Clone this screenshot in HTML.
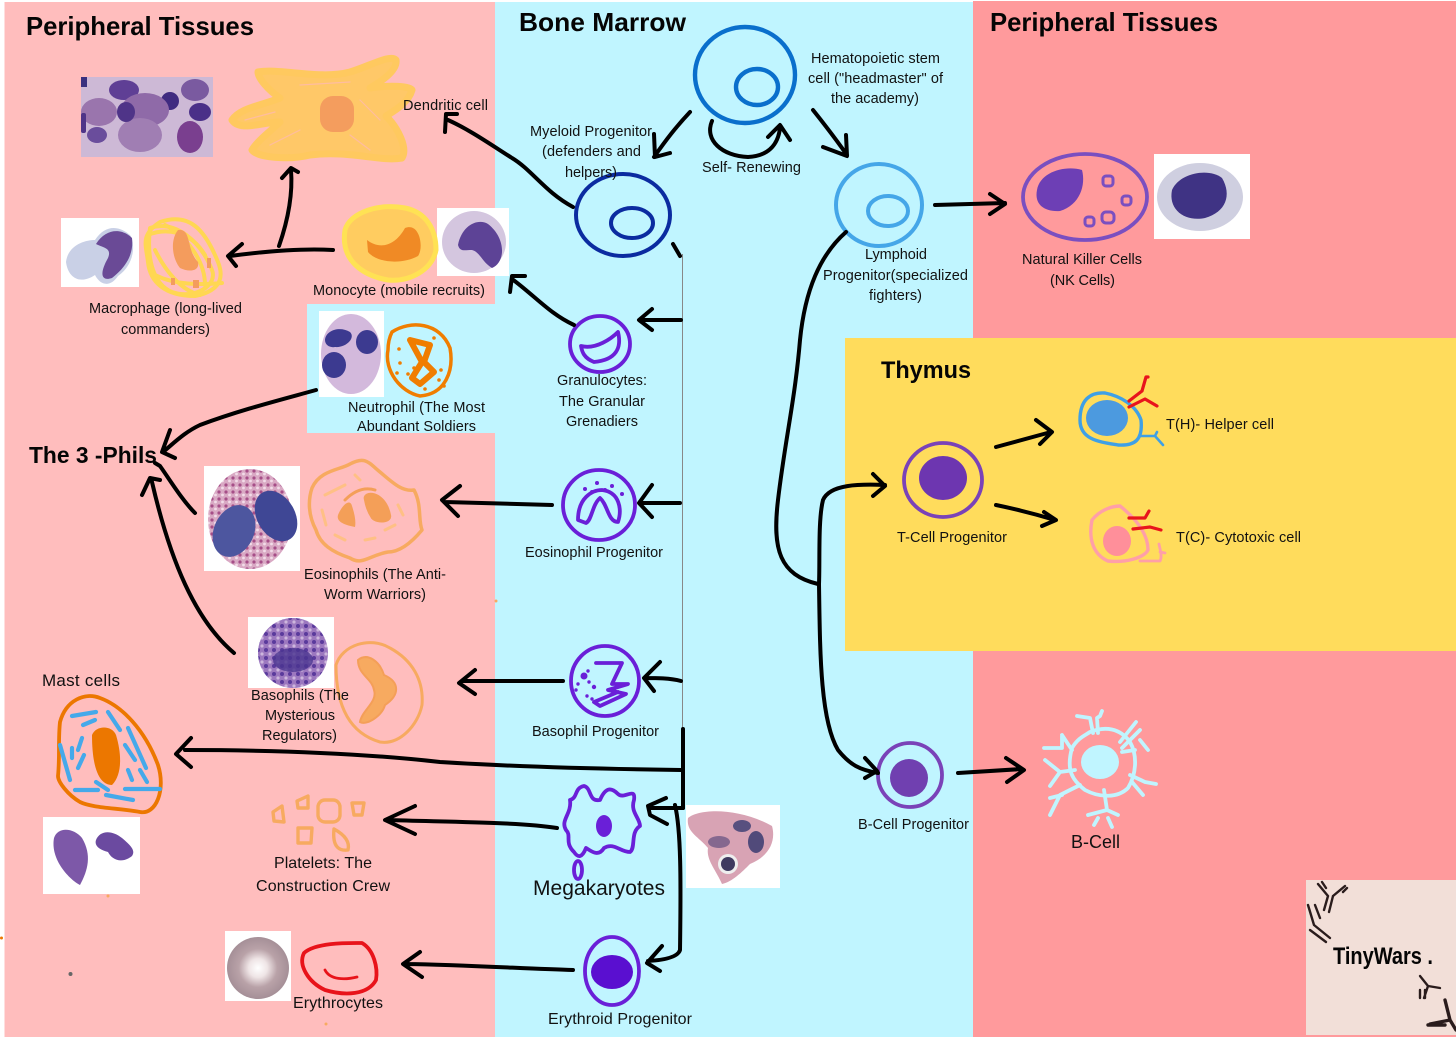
<!DOCTYPE html>
<html><head><meta charset="utf-8"><style>html,body{margin:0;padding:0;background:#fff}svg{display:block}
text{font-family:"Liberation Sans",sans-serif;fill:#111;font-size:14.5px}
.b{font-weight:bold;fill:#050505}
.a{fill:none;stroke:#000;stroke-width:4;stroke-linecap:round;stroke-linejoin:round}
.s{fill:none;stroke-linecap:round;stroke-linejoin:round}
</style></head><body>
<svg width="1456" height="1039" viewBox="0 0 1456 1039" xmlns="http://www.w3.org/2000/svg">
<defs><radialGradient id="ery"><stop offset="0" stop-color="#fff"/><stop offset=".3" stop-color="#efe5e6"/><stop offset=".62" stop-color="#b9a2a8"/><stop offset="1" stop-color="#a58f97"/></radialGradient>
<pattern id="gr" width="7" height="7" patternUnits="userSpaceOnUse"><rect width="7" height="7" fill="#d9a9c4"/><circle cx="2" cy="2" r="1.6" fill="#a64e88"/><circle cx="5.5" cy="5" r="1.4" fill="#f2dce8"/></pattern>
<pattern id="gb" width="8" height="8" patternUnits="userSpaceOnUse"><rect width="8" height="8" fill="#9c78bf"/><circle cx="2" cy="2" r="2" fill="#5a3a9c"/><circle cx="6" cy="6" r="1.6" fill="#cdb6dd"/></pattern></defs>
<rect width="1456" height="1039" fill="#fff"/>
<rect x="4.5" y="2" width="491" height="1035" fill="#FFBDBD"/>
<rect x="495" y="2" width="478" height="1035" fill="#C0F5FF"/>
<rect x="973" y="1" width="483" height="1036" fill="#FF9A9C"/>
<rect x="845" y="338" width="611" height="313" fill="#FFDC5C"/>
<rect x="307" y="304" width="188" height="129" fill="#C0F5FF"/>
<rect x="1306" y="880" width="150" height="155" fill="#F2DFD8"/>

<!-- micrograph images -->
<rect x="81" y="77" width="132" height="80" fill="#cdb9d6"/>
<ellipse cx="124" cy="90" rx="15" ry="10" fill="#5f3f95"/><ellipse cx="195" cy="90" rx="14" ry="11" fill="#7a5aa0"/><ellipse cx="170" cy="101" rx="9" ry="9" fill="#3f2a80"/><ellipse cx="200" cy="112" rx="11" ry="9" fill="#4a3088"/><ellipse cx="99" cy="112" rx="18" ry="14" fill="#9a75ad"/><ellipse cx="145" cy="110" rx="24" ry="17" fill="#8f6aa8"/><ellipse cx="140" cy="135" rx="22" ry="17" fill="#a07eb3"/><ellipse cx="126" cy="112" rx="9" ry="10" fill="#4f3488"/><ellipse cx="97" cy="135" rx="10" ry="8" fill="#6a4d9c"/><ellipse cx="190" cy="137" rx="13" ry="16" fill="#7a3f8f"/><rect x="81" y="113" width="5" height="20" rx="2" fill="#4f3488"/><rect x="81" y="77" width="6" height="10" fill="#39307f"/>
<rect x="61" y="218" width="78" height="69" fill="#fff"/>
<path d="M66 262C68 245 85 240 95 240C105 225 118 225 130 235C136 245 134 265 118 276C110 288 100 285 95 275C80 285 68 278 66 262Z" fill="#c9d0e6"/>
<path d="M96 244C106 228 122 228 132 238C134 255 125 268 112 278C100 282 100 272 108 258C112 248 104 248 96 244Z" fill="#6a4a96"/>
<rect x="437" y="208" width="72" height="68" fill="#fff"/>
<ellipse cx="474" cy="242" rx="32" ry="31" fill="#d4c6df"/>
<path d="M458 245C462 225 478 218 488 224C506 238 506 262 492 268C482 262 480 252 472 250C464 250 460 252 458 245Z" fill="#5d4396"/>
<rect x="319" y="311" width="65" height="86" fill="#fff"/>
<ellipse cx="351" cy="354" rx="30" ry="40" fill="#d3b9dc"/>
<path d="M325 340C326 330 340 326 350 332C356 338 346 348 335 347C330 348 325 345 325 340Z" fill="#3c3a90"/><ellipse cx="367" cy="342" rx="11" ry="12" fill="#3c3a90"/><ellipse cx="334" cy="365" rx="12" ry="13" fill="#3c3a90"/>
<rect x="204" y="466" width="96" height="105" fill="#fff"/>
<ellipse cx="250" cy="519" rx="42" ry="50" fill="url(#gr)"/>
<ellipse cx="234" cy="531" rx="20" ry="27" transform="rotate(25 234 531)" fill="#4d569f"/><ellipse cx="276" cy="516" rx="19" ry="27" transform="rotate(-30 276 516)" fill="#3f4795"/>
<rect x="248" y="617" width="86" height="71" fill="#fff"/>
<circle cx="293" cy="653" r="35" fill="url(#gb)"/><ellipse cx="293" cy="660" rx="20" ry="12" fill="#4a3490" opacity=".8"/>
<rect x="43" y="817" width="97" height="77" fill="#fff"/>
<path d="M54 838C58 826 74 828 82 838C92 855 88 870 80 885C70 880 50 860 54 838Z" fill="#7d58a8"/>
<path d="M96 840C100 830 112 830 122 838C130 845 136 850 132 856C122 864 112 860 108 852C100 850 94 846 96 840Z" fill="#6b4aa0"/>
<rect x="225" y="931" width="66" height="70" fill="#fff"/>
<circle cx="258" cy="968" r="31" fill="url(#ery)"/>
<rect x="686" y="805" width="94" height="83" fill="#fff"/>
<path d="M688 818C700 808 740 808 772 826C776 840 770 856 750 864C742 872 732 882 722 884C716 870 706 860 708 848C698 836 686 832 688 818Z" fill="#d8a3b4"/>
<ellipse cx="742" cy="826" rx="9" ry="6" fill="#58507f"/><ellipse cx="756" cy="842" rx="8" ry="11" fill="#514a7a"/><ellipse cx="719" cy="842" rx="11" ry="6" fill="#85688f"/><circle cx="728" cy="864" r="10" fill="#eee"/><circle cx="728" cy="864" r="7" fill="#3f3a60"/>
<rect x="1154" y="154" width="96" height="85" fill="#fff"/>
<ellipse cx="1200" cy="197" rx="43" ry="34" fill="#cfcfe0"/><path d="M1172 190C1180 172 1210 168 1222 178C1232 195 1226 212 1205 218C1185 222 1168 210 1172 190Z" fill="#3f3384"/>

<!-- Dendritic -->
<path d="M232 120C240 108 260 106 280 98C268 90 258 78 258 72C280 68 320 80 350 72C370 66 390 54 396 60C398 72 375 85 370 88C390 85 410 86 412 90C408 104 392 112 386 116C398 128 408 148 402 158C380 162 350 150 310 155C290 160 258 158 252 150C258 140 272 130 280 122C262 122 240 132 232 120Z" fill="#FFC868" stroke="#FFC95F" stroke-width="7" stroke-linejoin="round"/>
<g class="s" stroke="#FFBDA0" stroke-width="1.2"><path d="M245 120L275 112M270 145L300 130M370 150L350 135M300 85L350 82M380 120L360 100"/></g>
<rect x="320" y="96" width="34" height="36" rx="13" fill="#F49D5E"/>
<!-- Monocyte -->
<path d="M345 230C350 212 380 203 405 208C425 212 436 228 436 250C432 270 410 282 388 280C365 276 340 262 345 230Z" fill="#FFCC60" stroke="#FFE254" stroke-width="5"/>
<path d="M367 240C380 250 395 246 405 228C420 222 424 248 418 256C404 264 378 264 368 252Z" fill="#F08A25"/>
<!-- Macrophage -->
<g class="s" stroke="#FFD752" stroke-width="4"><path d="M160 222C190 212 205 230 218 262C226 282 215 292 195 296C165 296 150 282 148 262C146 245 140 235 160 222Z"/><path d="M150 228C175 220 200 240 212 270C218 285 195 300 172 292C155 285 146 262 150 228Z"/><path d="M165 225C185 235 205 260 205 285M155 250C165 270 180 290 200 295M148 235C165 228 190 230 205 255M155 275C175 285 200 285 222 283"/></g>
<path d="M178 230C192 228 186 250 198 262C200 272 188 272 180 268C172 258 170 240 178 230Z" fill="#F49C5D"/>
<g fill="#F49C5D"><rect x="171" y="278" width="4" height="7"/><rect x="193" y="280" width="6" height="8"/><rect x="207" y="258" width="4" height="10"/></g>
<!-- Neutrophil sketch -->
<path d="M392 332C410 320 440 322 450 348C454 370 446 394 420 396C400 392 384 370 388 350C388 342 390 336 392 332Z" class="s" stroke="#F07D00" stroke-width="3.5"/>
<path d="M410 340L430 345L424 362L434 372L420 384L412 378L422 362Z" fill="#F07D00" class="s" stroke="#F07D00" stroke-width="6"/>
<g fill="#F07D00"><circle cx="399" cy="349" r="1.8"/><circle cx="400" cy="363" r="1.8"/><circle cx="397" cy="373" r="1.8"/><circle cx="408" cy="374" r="1.8"/><circle cx="434" cy="338" r="1.8"/><circle cx="441" cy="370" r="1.8"/><circle cx="444" cy="386" r="1.8"/><circle cx="425" cy="389" r="1.8"/><circle cx="414" cy="368" r="1.8"/><circle cx="439" cy="380" r="1.8"/></g>
<!-- Eosinophil sketch -->
<path d="M312 488C320 470 340 470 350 464C365 456 368 462 380 472C392 482 402 492 414 490C422 505 418 520 422 530C412 542 400 552 388 552C370 555 362 566 350 558C332 552 320 544 316 530C308 515 308 500 312 488Z" class="s" stroke="#F7AA60" stroke-width="3.5"/>
<path d="M365 500C362 490 385 490 390 515C392 522 378 524 372 518C368 512 366 506 365 500Z" fill="#F49F58" stroke="#F49F58" stroke-width="2"/>
<path d="M338 515C342 505 350 498 352 506C355 515 356 522 355 527C345 525 336 522 338 515Z" fill="#F49F58"/>
<path d="M345 500C355 490 365 487 375 490" class="s" stroke="#F49F58" stroke-width="3"/>
<g class="s" stroke="#FFC085" stroke-width="3"><path d="M325 495L345 485M322 510L326 525M335 535L345 540M398 505L403 515M385 530L395 525M365 540L375 538M355 475L360 480"/></g>
<!-- Basophil sketch -->
<path d="M336 665C342 645 370 636 390 648C412 660 424 680 422 705C418 725 400 745 380 742C356 735 336 715 336 665Z" class="s" stroke="#F7AA60" stroke-width="3"/>
<path d="M358 660C368 652 380 662 384 675C400 682 400 695 385 705C382 716 366 726 360 722C362 710 378 702 374 690C372 678 358 675 358 660Z" fill="#F7AA60" stroke="#F49F58" stroke-width="2"/>
<!-- Mast -->
<path d="M60 722C66 700 85 692 100 698C122 706 145 730 158 765C166 790 156 815 140 812C118 808 92 808 80 802C68 795 58 782 58 776C60 756 58 740 60 722Z" class="s" stroke="#EC7700" stroke-width="3.8"/>
<path d="M92 735C96 725 112 725 116 735C122 755 122 775 112 785C100 785 92 770 92 735Z" fill="#EC7700"/>
<path d="M72 716L96 712M108 712L120 730M128 728L146 768M60 745L70 780M82 738L78 750M84 755L78 768M72 748V758M75 790H98M106 795L133 800M125 789H160M140 770L147 782M96 782L108 790M125 745L135 760M128 770L132 780M83 725L95 720" class="s" stroke="#45A9EA" stroke-width="4.2"/>
<!-- Platelets -->
<g class="s" stroke="#F7AA60" stroke-width="3.4"><rect x="318" y="800" width="22" height="22" rx="7"/><path d="M273 812L282 806L284 822L274 821Z M297 801L308 796L308 808L298 808Z M352 803H364L362 815L354 815Z M298 828H312L311 843H298Z M334 829C345 835 350 842 348 850C340 851 332 848 334 829Z"/></g>
<!-- Erythrocyte sketch -->
<path d="M304 953C316 942 350 943 362 943C374 950 378 968 376 980C368 995 345 996 325 990C308 982 298 965 304 953Z" class="s" stroke="#E8131A" stroke-width="3.8"/>
<path d="M325 970C330 980 345 980 357 977" class="s" stroke="#E8131A" stroke-width="2.8"/>

<!-- Stem and progenitors -->
<g class="s" stroke="#0A6FCC" stroke-width="4.4"><ellipse cx="745" cy="75" rx="50" ry="48"/><ellipse cx="757" cy="87" rx="21" ry="18"/></g>
<g class="s" stroke="#0B2BA0" stroke-width="4"><ellipse cx="623" cy="215" rx="47" ry="41"/><ellipse cx="632" cy="223" rx="21" ry="15"/></g>
<g class="s" stroke="#45A6E8" stroke-width="4"><ellipse cx="879" cy="205" rx="43" ry="41"/><ellipse cx="888" cy="211" rx="20" ry="15"/></g>
<g class="s" stroke="#7A4FC0" stroke-width="3.8"><ellipse cx="1085" cy="197" rx="62" ry="43"/></g>
<path d="M1037 190C1040 172 1065 165 1082 170C1086 185 1080 205 1060 211C1045 212 1034 205 1037 190Z" fill="#6D3FB5"/>
<g class="s" stroke="#7A4FC0" stroke-width="3"><rect x="1103" y="176" width="10" height="10" rx="3"/><rect x="1122" y="196" width="9" height="9" rx="3"/><rect x="1102" y="212" width="12" height="11" rx="4"/><rect x="1085" y="217" width="9" height="9" rx="3"/></g>
<g class="s" stroke="#6A1FD8" stroke-width="3.8">
<ellipse cx="600" cy="344" rx="30" ry="28"/><path d="M581 346C596 350 612 338 618 332C622 348 616 360 594 362C584 358 582 352 581 346Z"/>
<ellipse cx="599" cy="505" rx="36" ry="35"/><path d="M578 520C578 498 592 490 602 490C620 492 622 510 618 522C608 522 608 505 600 498C592 505 592 520 586 523Z"/>
<ellipse cx="605" cy="681" rx="34" ry="35"/><path d="M596 663H622L612 684H628L608 690L626 694L600 706L594 702L618 692"/>
<path d="M570 800C578 798 574 788 584 786C592 788 588 802 600 800C606 786 612 788 618 794C624 800 636 786 634 800C630 812 640 818 640 826C630 832 636 848 630 852C620 852 614 842 604 848C598 858 590 850 586 848C582 858 578 858 574 852C564 842 572 836 566 830C560 820 572 814 570 800Z"/>
<ellipse cx="578" cy="870" rx="4" ry="9"/>
<ellipse cx="612" cy="971" rx="27" ry="34"/>
</g>
<g fill="#6A1FD8"><ellipse cx="604" cy="826" rx="8" ry="11"/><ellipse cx="612" cy="972" rx="21" ry="17" fill="#5A0FD0"/>
<circle cx="584" cy="676" r="3.5"/><circle cx="588" cy="671" r="1.7"/><circle cx="578" cy="684" r="1.7"/><circle cx="594" cy="687" r="2.2"/><circle cx="589" cy="682" r="1.7"/><circle cx="587" cy="696" r="1.7"/><circle cx="592" cy="699" r="1.7"/><circle cx="576" cy="690" r="1.7"/>
<circle cx="585" cy="489" r="2"/><circle cx="597" cy="483" r="2"/><circle cx="605" cy="490" r="2"/><circle cx="612" cy="486" r="2"/><circle cx="592" cy="492" r="2"/><circle cx="622" cy="494" r="2"/></g>
<g class="s" stroke="#7A42B8" stroke-width="3.8"><ellipse cx="943" cy="480" rx="39" ry="37"/><ellipse cx="910" cy="775" rx="32" ry="32"/></g>
<ellipse cx="943" cy="478" rx="24" ry="22" fill="#6D36B0"/>
<ellipse cx="909" cy="778" rx="19" ry="19" fill="#7040B0"/>

<!-- T cells -->
<path d="M1080 420C1080 400 1090 392 1105 393C1120 396 1136 405 1141 420C1143 440 1135 446 1118 445C1100 442 1080 440 1080 420Z" class="s" stroke="#3FA0E6" stroke-width="3.4"/>
<ellipse cx="1107" cy="418" rx="21" ry="18" fill="#4C9ADF"/>
<path d="M1141 436H1155L1163 445M1155 436L1157 432" class="s" stroke="#3FA0E6" stroke-width="2.6"/>
<path d="M1129 401L1142 391L1146 377H1148M1129 407L1145 399L1157 406" class="s" stroke="#E8141C" stroke-width="3.2"/>
<path d="M1092 520C1100 510 1112 506 1120 506C1130 514 1148 530 1148 550C1144 558 1125 563 1108 561C1094 555 1088 540 1092 520Z" class="s" stroke="#FF9FA8" stroke-width="3.4"/>
<ellipse cx="1117" cy="541" rx="14" ry="15" fill="#FF8F9A"/>
<path d="M1140 561H1160C1163 556 1159 546 1159 544M1160 552L1165 553" class="s" stroke="#FF9FA8" stroke-width="2.8"/>
<path d="M1129 518H1145L1149 511M1133 529L1150 527L1161 530" class="s" stroke="#E8141C" stroke-width="3.2"/>

<!-- B cell -->
<g class="s" stroke="#C0F5FF" stroke-width="3.8"><path d="M1090 732C1105 726 1120 728 1130 742C1138 756 1136 775 1128 788C1118 798 1100 798 1085 790C1072 780 1066 770 1072 748C1078 738 1084 736 1090 732Z"/><path d="M1093 733L1090 718L1077 716M1098 733L1097 718L1100 716L1102 711M1120 742L1136 722M1122 748L1140 730M1140 740L1148 750M1122 752L1135 750M1072 750L1062 735M1062 748H1044M1062 735V748M1075 770L1060 772L1045 760M1060 772L1050 786M1080 785L1060 795L1050 815M1062 795L1050 798M1104 790L1107 810L1088 815M1107 810L1118 815M1094 825L1098 818M1108 818L1112 827M1130 775L1145 782L1156 784M1132 782L1143 795"/></g>
<ellipse cx="1100" cy="762" rx="19" ry="17" fill="#C0F5FF"/>

<!-- connectors -->
<path d="M682.5 254V728" stroke="#888" stroke-width="1" fill="none"/>
<g class="a">
<path d="M690 112C675 128 666 140 654 157M654 134L655 157L670 153"/>
<path d="M813 110C825 125 835 138 847 155M823 147L847 156L846 135"/>
<path d="M712 121C704 140 722 156 748 157C768 156 778 145 780 128M768 137L780 125L790 140"/>
<path d="M573 207C545 192 532 170 512 158C490 144 470 130 448 120M445 132L446 114L457 114"/>
<path d="M673 244L680 256"/>
<path d="M681 320H640M652 309L639 320L652 330"/>
<path d="M574 325C550 314 535 296 512 279M510 292L512 276L525 276"/>
<path d="M680 503H640M652 485L639 503L652 517"/>
<path d="M552 505L445 502M460 486L442 500L458 516"/>
<path d="M681 681C670 678 656 678 645 678M660 662L644 678L654 691"/>
<path d="M563 681H462M475 670L459 683L475 694"/>
<path d="M683 729V808M681 770C600 769 520 767 440 762C350 752 260 750 185 750M191 738L176 754L191 767"/>
<path d="M683 808H650M666 798L648 806L650 815L667 824"/>
<path d="M675 805C681 830 681 880 680 950C678 957 665 960 648 961M662 946L647 963L660 971"/>
<path d="M557 828C520 822 450 822 387 820M415 806L385 820L415 834"/>
<path d="M573 970C530 969 470 965 405 964M420 952L403 964L422 977"/>
<path d="M333 250C300 248 260 252 230 256M242 244L228 256L236 266"/>
<path d="M279 246C288 220 293 195 291 170M282 178L291 168L298 172"/>
<path d="M316 390C280 400 240 410 200 425C185 432 175 442 163 452M170 430L162 452L175 458"/>
<path d="M195 513C182 500 170 480 160 466L155 463"/>
<path d="M234 653C195 620 170 560 152 482M142 495L150 478L160 480"/>
<path d="M846 232C820 255 805 290 800 340C795 400 785 440 778 500C772 550 780 575 818 584"/>
<path d="M819 584C820 560 818 520 823 500C830 484 860 484 885 485M873 474L885 486L873 496"/>
<path d="M819 584C820 650 820 720 838 750C850 765 860 770 878 773M865 758L877 771L865 778"/>
<path d="M935 205L1005 203M990 194L1005 204L990 214"/>
<path d="M958 773L1022 769M1006 758L1024 770L1007 782"/>
<path d="M996 447L1051 432M1036 420L1052 432L1040 444"/>
<path d="M996 505C1020 510 1035 514 1055 520M1042 526L1056 520L1044 512"/>
</g>

<!-- text -->
<text x="26" y="35" class="b" style="font-size:26px" textLength="228" lengthAdjust="spacingAndGlyphs">Peripheral Tissues</text>
<text x="519" y="31" class="b" style="font-size:26px" textLength="167" lengthAdjust="spacingAndGlyphs">Bone Marrow</text>
<text x="990" y="31" class="b" style="font-size:26px" textLength="228" lengthAdjust="spacingAndGlyphs">Peripheral Tissues</text>
<text x="881" y="378" class="b" style="font-size:24px" textLength="90" lengthAdjust="spacingAndGlyphs">Thymus</text>
<text x="29" y="463" class="b" style="font-size:23px" textLength="128" lengthAdjust="spacingAndGlyphs">The 3 -Phils</text>
<text x="403" y="110" textLength="85">Dendritic cell</text>
<text x="530" y="136" textLength="122">Myeloid Progenitor</text>
<text x="542" y="156" textLength="99">(defenders and</text>
<text x="565" y="177" textLength="52">helpers)</text>
<text x="811" y="63" textLength="129">Hematopoietic stem</text>
<text x="808" y="83" textLength="135">cell ("headmaster" of</text>
<text x="831" y="103" textLength="88">the academy)</text>
<text x="702" y="172" textLength="99">Self- Renewing</text>
<text x="865" y="259" textLength="62">Lymphoid</text>
<text x="823" y="280" textLength="145">Progenitor(specialized</text>
<text x="869" y="300" textLength="53">fighters)</text>
<text x="1022" y="264" textLength="120">Natural Killer Cells</text>
<text x="1050" y="285" textLength="65">(NK Cells)</text>
<text x="313" y="295" textLength="172">Monocyte (mobile recruits)</text>
<text x="89" y="313" textLength="153">Macrophage (long-lived</text>
<text x="121" y="334" textLength="89">commanders)</text>
<text x="348" y="412" textLength="137">Neutrophil (The Most</text>
<text x="357" y="431" textLength="119">Abundant Soldiers</text>
<text x="557" y="385" textLength="90">Granulocytes:</text>
<text x="559" y="406" textLength="86">The Granular</text>
<text x="566" y="426" textLength="72">Grenadiers</text>
<text x="1166" y="429" textLength="108">T(H)- Helper cell</text>
<text x="1176" y="542" textLength="125">T(C)- Cytotoxic cell</text>
<text x="897" y="542" textLength="110">T-Cell Progenitor</text>
<text x="525" y="557" textLength="138">Eosinophil Progenitor</text>
<text x="304" y="579" textLength="142">Eosinophils (The Anti-</text>
<text x="324" y="599" textLength="102">Worm Warriors)</text>
<text x="251" y="700" textLength="98">Basophils (The</text>
<text x="265" y="720" textLength="70">Mysterious</text>
<text x="262" y="740" textLength="75">Regulators)</text>
<text x="532" y="736" textLength="127">Basophil Progenitor</text>
<text x="42" y="686" style="font-size:17px" textLength="78">Mast cells</text>
<text x="533" y="895" style="font-size:21px" textLength="132">Megakaryotes</text>
<text x="274" y="868" style="font-size:16px" textLength="98">Platelets: The</text>
<text x="256" y="891" style="font-size:16px" textLength="134">Construction Crew</text>
<text x="293" y="1008" style="font-size:16px" textLength="90">Erythrocytes</text>
<text x="548" y="1024" style="font-size:16px" textLength="144">Erythroid Progenitor</text>
<text x="1071" y="848" style="font-size:18px" textLength="49">B-Cell</text>
<text x="858" y="829" textLength="111">B-Cell Progenitor</text>
<text x="1333" y="964" class="b" style="font-size:24px" textLength="100" lengthAdjust="spacingAndGlyphs">TinyWars .</text>

<!-- logo antibodies -->
<g class="s" stroke="#2a1c1c" stroke-width="2.4">
<path d="M1328 896L1324 910M1333 896L1329 912M1328 896L1318 884M1333 896L1345 886M1322 882L1326 888M1343 892L1347 888"/>
<path d="M1308 905L1314 925M1314 925L1330 938M1310 930L1326 942M1315 905L1320 918"/>
<path d="M1420 976L1428 986L1440 988M1428 986L1424 998M1420 998V990M1425 998V990"/>
<path d="M1445 1000L1450 1020L1430 1024M1450 1020L1456 1030M1445 1025H1428" stroke-width="3.4"/>
</g>
<g fill="#F7AA60"><circle cx="108" cy="896" r="1.5"/><circle cx="326" cy="1024" r="1.5"/><circle cx="496" cy="601" r="1.5"/></g>
<circle cx="1.5" cy="938" r="1.5" fill="#EC7700"/><circle cx="70.5" cy="974" r="2" fill="#666"/>
</svg>
</body></html>
